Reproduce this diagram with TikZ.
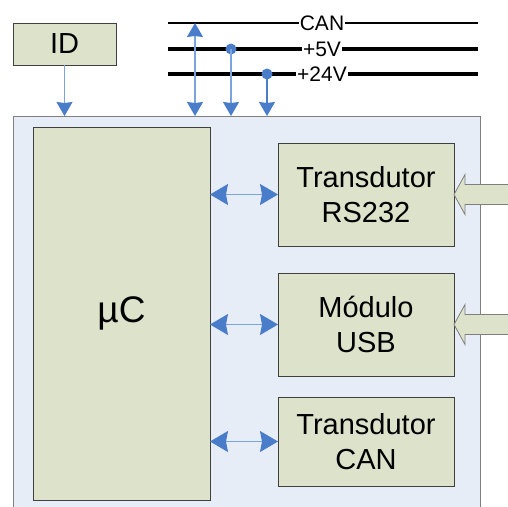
\documentclass[tikz,border=0pt]{standalone}
\usepackage{fontspec}
\setmainfont{Liberation Sans}
\usetikzlibrary{arrows.meta,positioning}
\definecolor{boxfill}{HTML}{DDE2CB}
\definecolor{boardfill}{HTML}{E7EDF7}
\definecolor{linkblue}{HTML}{4A7DC9}
\definecolor{linklight}{HTML}{7BA3DC}
\definecolor{edgegray}{HTML}{7F7F7F}

\begin{document}
\begin{tikzpicture}[x=1pt, y=-1pt,
    every node/.style={inner sep=0pt, outer sep=0pt},
    block/.style={draw=black!75, line width=0.8pt, fill=boxfill, align=center,
      font=\fontsize{29}{35}\selectfont},
    board/.style={draw=edgegray, line width=0.8pt, fill=boardfill},
    busline/.style={line width=3.2pt},
    buslabel/.style={fill=white, inner sep=1pt, font=\fontsize{21}{21}\selectfont},
    feed/.style={draw=linklight, line width=1.3pt,
      -{Stealth[length=14pt, width=16pt, inset=1pt, color=linkblue]}},
    feedboth/.style={draw=linklight, line width=1.3pt,
      {Stealth[length=14pt, width=16pt, inset=1pt, color=linkblue]}-{Stealth[length=14pt, width=16pt, inset=1pt, color=linkblue]}},
    link/.style={draw=linklight, line width=1.3pt,
      {Stealth[length=18pt, width=21pt, inset=2pt, color=linkblue]}-{Stealth[length=18pt, width=21pt, inset=2pt, color=linkblue]}},
    port/.style={draw=edgegray, line width=0.8pt, fill=boxfill}]
  \useasboundingbox (0,0) rectangle (508,506);

  % board and blocks
  \node[board, minimum width=467pt, minimum height=404pt] (board) at (246.5,318) {};
  \node[block, minimum width=103pt, minimum height=42pt] (id) at (64.5,44) {ID};
  \node[block, minimum width=177pt, minimum height=373pt,
    font=\fontsize{37}{37}\selectfont] (cpu) at (121.5,313.5) {µC};
  \node[block, minimum width=176pt, minimum height=103pt] (rs) at (366,194.5) {Transdutor\\RS232};
  \node[block, minimum width=176pt, minimum height=103pt] (usb) at (366,324.5) {Módulo\\USB};
  \node[block, minimum width=176pt, minimum height=89pt] (can) at (366,441.5) {Transdutor\\CAN};

  % bus lines
  \coordinate (canL) at (168,23);
  \coordinate (canR) at (478,23);
  \coordinate (vfiveL) at (168,49);
  \coordinate (vfiveR) at (478,49);
  \coordinate (vtfL) at (168,74);
  \coordinate (vtfR) at (478,74);
  \node[buslabel] (canlbl) at (322,23) {CAN};
  \node[buslabel] (vfivelbl) at (322,49) {+5V};
  \node[buslabel] (vtflbl) at (322,74) {+24V};
  \draw[busline, line width=2.6pt] (canL) -- (canlbl.west) (canlbl.east) -- (canR);
  \draw[busline] (vfiveL) -- (vfivelbl.west) (vfivelbl.east) -- (vfiveR);
  \draw[busline] (vtfL) -- (vtflbl.west) (vtflbl.east) -- (vtfR);

  % taps into the board
  \coordinate (cantap) at (195,23);
  \coordinate (vfivetap) at (231,49);
  \coordinate (vtftap) at (267,74);
  \fill[linkblue] (vfivetap) circle (5.5pt);
  \fill[linkblue] (vtftap) circle (5.5pt);
  \draw[feed] (id.south) -- (id.south |- board.north);
  \draw[feedboth] (cantap) -- (cantap |- board.north);
  \draw[feed] (vfivetap) -- (vfivetap |- board.north);
  \draw[feed, draw=linkblue] (vtftap) -- (vtftap |- board.north);

  % cpu links
  \draw[link] (cpu.east |- rs.west) -- (rs.west);
  \draw[link] (cpu.east |- usb.west) -- (usb.west);
  \draw[link] (cpu.east |- can.west) -- (can.west);

  % external ports
  \draw[port] (rs.east) -- ++(11,-20) -- ++(0,10) -- ++(50,0) -- ++(0,20) -- ++(-50,0) -- ++(0,10) -- cycle;
  \draw[port] (usb.east) -- ++(11,-20) -- ++(0,10) -- ++(50,0) -- ++(0,20) -- ++(-50,0) -- ++(0,10) -- cycle;
\end{tikzpicture}
\end{document}
